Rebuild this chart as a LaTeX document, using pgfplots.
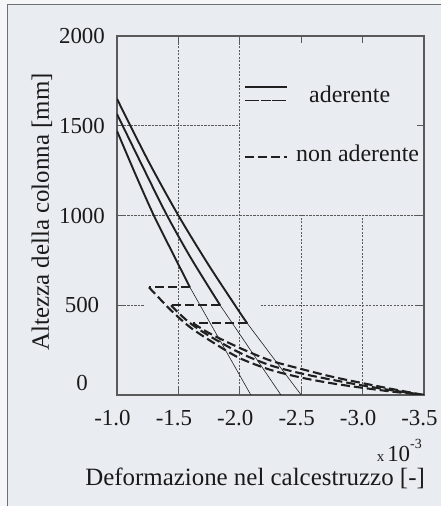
\documentclass[border=0pt]{standalone}
\usepackage{pgfplots}
\pgfplotsset{compat=1.18}
\usepackage{fontspec}
\setmainfont{Liberation Serif}

\definecolor{outerbg}{HTML}{F4F6F8}
\definecolor{innerbg}{HTML}{E9EDF1}
\definecolor{framegray}{HTML}{707070}
\definecolor{axisgray}{HTML}{5A5A5A}
\definecolor{curve}{HTML}{202020}
\definecolor{txt}{HTML}{1A1A1A}

\tikzset{
  gridline/.style={axisgray, line width=1bp, dash pattern=on 2.2bp off 1.3bp},
  thickline/.style={curve, line width=1.9bp},
  thinline/.style={curve, line width=0.6bp},
  dashline/.style={curve, line width=2.1bp, dash pattern=on 9bp off 4bp},
}

\begin{document}
\begin{tikzpicture}
\path[use as bounding box] (0bp,0bp) rectangle (441bp,506bp);
\fill[outerbg] (0bp,0bp) rectangle (441bp,506bp);
\fill[innerbg] (7bp,0bp) rectangle (441bp,501bp);
\draw[framegray, line width=1bp] (7bp,0bp) -- (7bp,501bp) -- (441bp,501bp);

\begin{axis}[
    at={(270.5bp,290.5bp)}, anchor=center,
    scale only axis, width=307bp, height=359bp,
    x dir=reverse,
    xmin=-3.5, xmax=-1.0, ymin=0, ymax=2000,
    xtick={-1.0,-1.5,-2.0,-2.5,-3.0,-3.5},
    xticklabels={-1.0,-1.5,-2.0,-2.5,-3.0,-3.5},
    ytick={500,1000,1500,2000},
    yticklabels={500,1000,1500,2000},
    extra y ticks={0}, extra y tick labels={0},
    extra y tick style={yticklabel style={yshift=12bp}},
    tick label style={font=\fontsize{23}{23}\selectfont, text=txt},
    xticklabel style={anchor=center, yshift=-23bp, xshift=-4.5bp},
    yticklabel style={anchor=center, xshift=-35bp},
    axis line style={axisgray, line width=1.1bp},
    major tick style={axisgray, line width=1bp},
    major tick length=7bp,
    tick align=inside,
]
% grid, interrupted where the legend and the curves sit
\draw[gridline] (-1.5,0) -- (-1.5,2000);
\draw[gridline] (-2.0,0) -- (-2.0,2000);
\draw[gridline] (-2.5,0) -- (-2.5,1000);
\draw[gridline] (-3.0,0) -- (-3.0,1000);
\draw[gridline] (-1.0,1500) -- (-2.0,1500);
\draw[gridline] (-1.0,1000) -- (-3.5,1000);
\draw[gridline] (-1.0,500) -- (-1.22,500);
\draw[gridline] (-2.17,500) -- (-3.5,500);

% aderente
\addplot[thickline, smooth] coordinates {(-1.0,1650) (-1.25,1310) (-1.5,1000) (-1.75,720) (-2.0,460) (-2.06,400)};
\addplot[thinline] coordinates {(-2.06,400) (-2.5,0)};
\addplot[thickline, smooth] coordinates {(-1.0,1565) (-1.2,1285) (-1.4,1010) (-1.6,765) (-1.84,500)};
\addplot[thinline] coordinates {(-1.84,500) (-2.335,0)};
\addplot[thickline, smooth] coordinates {(-1.0,1471) (-1.15,1230) (-1.3,1000) (-1.45,795) (-1.594,600)};
\addplot[thinline] coordinates {(-1.594,600) (-2.09,0)};

% non aderente
\addplot[dashline] coordinates {(-1.594,600) (-1.26,600)};
\addplot[dashline, smooth] coordinates {(-1.26,600) (-1.35,535) (-1.45,465) (-1.6,375) (-1.8,285) (-2.0,205) (-2.25,140) (-2.5,97) (-2.75,65) (-3.0,40) (-3.25,18) (-3.5,0)};
\addplot[dashline] coordinates {(-1.84,500) (-1.44,500)};
\addplot[dashline, smooth] coordinates {(-1.44,500) (-1.5,458) (-1.6,398) (-1.75,330) (-2.0,235) (-2.25,165) (-2.5,120) (-2.75,85) (-3.0,53) (-3.25,25) (-3.5,0)};
\addplot[dashline] coordinates {(-2.06,400) (-1.62,400)};
\addplot[dashline, smooth] coordinates {(-1.62,400) (-1.75,345) (-2.0,262) (-2.25,192) (-2.5,145) (-2.75,102) (-3.0,66) (-3.25,32) (-3.5,0)};
\end{axis}

% legend
\draw[thickline] (245bp,419bp) -- (287bp,419bp);
\draw[thinline, dash pattern=on 14bp off 1.5bp on 10bp off 1.5bp] (245bp,406bp) -- (287bp,406bp);
\draw[dashline] (245bp,349bp) -- (287bp,349bp);
\node[anchor=base west, inner sep=0pt, text=txt, font=\fontsize{24}{24}\selectfont] at (309bp,403bp) {aderente};
\node[anchor=base west, inner sep=0pt, text=txt, font=\fontsize{24}{24}\selectfont] at (296bp,344bp) {non aderente};

% labels
\node[rotate=90, inner sep=0pt, text=txt, font=\fontsize{25}{25}\selectfont] at (42bp,294bp) {Altezza della colonna [mm]};
\node[anchor=base east, inner sep=0pt, text=txt, font=\fontsize{25}{25}\selectfont] at (425bp,21bp) {Deformazione nel calcestruzzo [-]};
\node[anchor=base east, inner sep=0pt, text=txt] at (422bp,44bp) {{\fontsize{15}{15}\selectfont x}\hspace{3bp}{\fontsize{23}{23}\selectfont 10}\raisebox{13bp}{\fontsize{14}{14}\selectfont -3}};
\end{tikzpicture}
\end{document}
